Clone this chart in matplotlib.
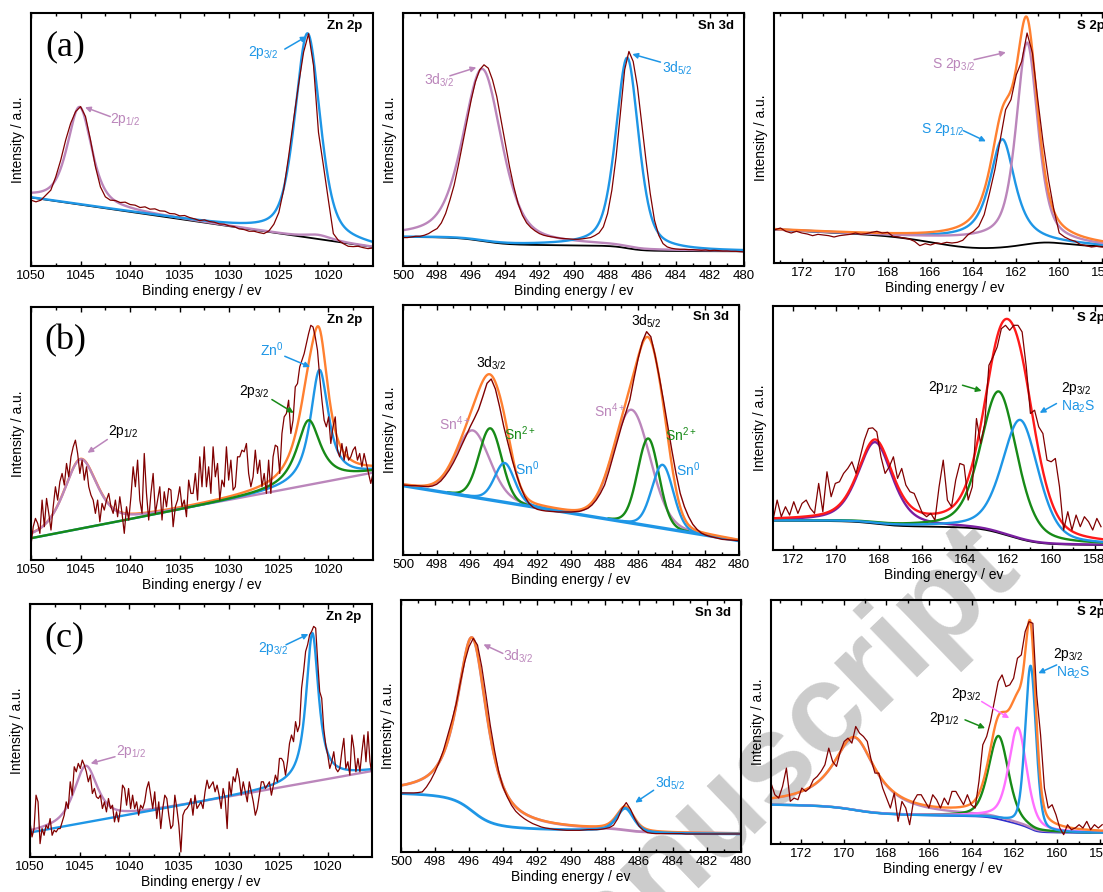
import numpy as np
import matplotlib.pyplot as plt
from matplotlib.ticker import MultipleLocator

plt.rcParams['font.family'] = ['Liberation Sans', 'DejaVu Sans']
plt.rcParams['mathtext.fontset'] = 'custom'
plt.rcParams['mathtext.rm'] = 'Liberation Sans'
plt.rcParams['mathtext.it'] = 'Liberation Sans:italic'
plt.rcParams['mathtext.bf'] = 'Liberation Sans:bold'

RAW = '#800000'
BLUE = '#1e96e6'
MAUVE = '#bb86bb'
ORANGE = '#ff8030'
GREEN = '#178a17'
RED = '#ff1a1a'
VIOLET = '#7a1fa0'
PINK = '#ff70ff'
NAVY = '#2e2ecc'

# ---------------------------------------------------------------------------
# data, intensities in a.u.
# peaks are (centre / eV, height, fwhm / eV, lorentzian fraction)
# backgrounds are (linear at left edge, linear at right edge, shirley step)
# ---------------------------------------------------------------------------

# (a) Zn 2p, raw every 0.5 eV from 1050 to 1015.5
a_zn_raw = [197, 192, 197, 212, 227, 267, 317, 377, 427, 462,
            477, 447, 377, 297, 237, 207, 197, 196, 190, 191,
            184, 182, 175, 177, 170, 171, 165, 164, 157, 156,
            150, 151, 145, 141, 136, 138, 133, 131, 126, 125,
            120, 118, 111, 109, 104, 104, 100, 97, 105, 125,
            160, 230, 330, 440, 545, 640, 695, 600, 400, 300,
            197, 97, 77, 67, 59, 58, 59, 55, 52, 54]
a_zn_bg = (205, 57, 0)
a_zn_p12 = (1045.1, 292, 2.9, 0.6)
a_zn_p12_tail = (1021.0, 12, 3.0, 0.5)
a_zn_p32 = (1022.1, 611, 3.0, 0.5)

# (a) Sn 3d, raw every 0.25 eV from 500 to 480
a_sn_raw = [85, 85, 87, 89, 89, 92, 97, 105, 112, 129,
            157, 197, 242, 302, 367, 432, 497, 552, 587, 602,
            592, 557, 507, 437, 367, 297, 237, 187, 152, 129,
            115, 105, 97, 92, 89, 87, 85, 83, 82, 81,
            80, 80, 81, 83, 85, 91, 99, 117, 157, 227,
            327, 457, 587, 642, 612, 537, 427, 317, 217, 137,
            92, 67, 57, 53, 51, 50, 50, 49, 49, 48,
            47, 48, 46, 47, 46, 45, 45, 44, 44, 43, 42]
a_sn_bg = (45, 44, 42)
a_sn_d32 = (495.35, 515, 2.7, 0.5)
a_sn_d52 = (486.85, 570, 1.6, 0.5)

# (a) S 2p, raw every 0.25 eV from 173.25 to 157.25
a_s_raw = [100, 105, 95, 90, 95, 90, 87, 82, 86, 84,
           82, 78, 82, 84, 86, 90, 86, 88, 92, 95,
           90, 92, 80, 78, 75, 72, 65, 52, 58, 54,
           60, 58, 62, 60, 62, 68, 85, 95, 110, 145,
           210, 280, 370, 460, 490, 565, 605, 690, 630, 490,
           360, 250, 160, 90, 78, 70, 65, 55, 52, 48,
           50, 48, 50, 45, 45]
a_s_bg = (100, 48, 0)
a_s_bg_dip = [(164.0, -24, 4.5, 0.0), (160.7, 8, 2.0, 0.0)]
a_s_p12 = (162.65, 306, 1.4, 0.8)
a_s_p32 = (161.5, 600, 1.2, 0.6)

# (b) Zn 2p, raw evenly spaced from 1050 to 1015.5
b_zn_raw = [45, 100, 125, 110, 80, 180, 100, 185, 140, 90,
            160, 220, 180, 235, 260, 225, 290, 250, 310, 340,
            360, 320, 260, 300, 240, 280, 220, 195, 180, 140,
            180, 115, 170, 150, 180, 200, 160, 140, 180, 130,
            190, 140, 80, 160, 120, 190, 280, 220, 300, 180,
            140, 320, 200, 120, 200, 260, 140, 180, 220, 120,
            205, 160, 215, 210, 100, 160, 180, 220, 160, 180,
            130, 240, 200, 200, 260, 180, 310, 220, 340, 220,
            280, 200, 340, 250, 290, 180, 240, 220, 340, 240,
            300, 210, 220, 310, 310, 330, 325, 350, 260, 220,
            250, 330, 260, 300, 220, 260, 200, 300, 200, 310,
            345, 340, 260, 380, 430, 440, 480, 380, 420, 520,
            530, 580, 600, 620, 650, 680, 705, 700, 670, 630,
            550, 480, 420, 400, 430, 350, 400, 430, 330, 310,
            350, 300, 340, 300, 310, 330, 340, 300, 320, 280,
            320, 290, 260, 230, 260]
b_zn_bg = (65, 262, 0)
b_zn_p12 = (1045.0, 209, 3.9, 0.5)
b_zn_p32 = (1022.0, 195, 2.9, 0.9)
b_zn_zn0 = (1020.9, 340, 2.2, 0.9)

# (b) Sn 3d, raw every 0.25 eV from 500 to 480
b_sn_raw = [210, 209, 208, 208, 207, 206, 205, 207, 212, 222,
            237, 255, 277, 302, 330, 357, 385, 410, 437, 475,
            515, 528, 498, 445, 385, 335, 285, 242, 205, 175,
            155, 143, 137, 134, 132, 131, 130, 129, 129, 129,
            129, 130, 131, 135, 140, 150, 165, 185, 210, 250,
            295, 340, 385, 425, 465, 530, 590, 640, 670, 655,
            600, 535, 465, 390, 315, 245, 185, 145, 115, 92,
            77, 66, 60, 56, 53, 50, 47, 46, 45, 44, 43]
b_sn_bg = (208, 43, 0)
b_sn_d32 = [(495.85, 200, 2.4, 0.2), (494.8, 215, 1.6, 0.1), (493.95, 118, 1.4, 0.2)]
b_sn_d52 = [(486.4, 340, 2.6, 0.1), (485.4, 262, 1.5, 0.1), (484.55, 190, 1.5, 0.1)]

# (b) S 2p, raw evenly spaced from 172.95 to 157.7
b_s_raw = [90, 150, 100, 130, 105, 145, 110, 140, 150, 125,
           110, 200, 115, 235, 160, 200, 205, 230, 245, 265,
           230, 280, 330, 365, 367, 355, 280, 230, 250, 280,
           215, 245, 195, 175, 170, 140, 110, 100, 110, 90,
           190, 270, 150, 130, 210, 260, 255, 150, 190, 395,
           320, 380, 555, 580, 610, 665, 675, 660, 675, 675,
           655, 550, 410, 420, 370, 350, 270, 265, 275, 190,
           60, 115, 60, 105, 70, 100, 85, 60, 95, 70]
b_s_bg = (15, 15, 73)
b_s_sulf = (168.2, 245, 1.9, 0.5)
b_s_p12 = (162.45, 425, 2.0, 0.4)
b_s_na2s = (161.45, 358, 2.0, 0.4)

# (c) Zn 2p, raw evenly spaced from 1050 to 1015.6
c_zn_raw = [105, 60, 85, 185, 165, 40, 85, 65, 95, 85,
            115, 65, 80, 75, 85, 85, 105, 125, 165, 145,
            225, 185, 270, 255, 280, 265, 290, 275, 255, 225,
            245, 190, 205, 180, 175, 185, 145, 165, 135, 175,
            145, 155, 105, 135, 105, 145, 215, 205, 155, 205,
            145, 185, 145, 165, 125, 155, 145, 165, 205, 225,
            185, 145, 195, 115, 165, 85, 145, 185, 175, 125,
            85, 95, 185, 145, 95, 15, 125, 140, 145, 155,
            175, 125, 185, 145, 155, 165, 145, 195, 230, 205,
            215, 225, 195, 215, 185, 145, 205, 175, 85, 225,
            185, 240, 225, 265, 235, 185, 225, 195, 165, 225,
            195, 165, 125, 145, 185, 225, 225, 205, 215, 225,
            185, 215, 245, 225, 295, 295, 285, 245, 285, 340,
            365, 345, 405, 375, 395, 505, 555, 615, 635, 665,
            675, 690, 685, 585, 495, 475, 385, 335, 305, 265,
            285, 315, 265, 255, 265, 315, 355, 265, 285, 245,
            365, 325, 255, 295, 255, 315, 365, 285, 375, 285, 245]
c_zn_bg = (73, 257, 0)
c_zn_p12 = (1044.4, 170, 2.8, 0.7)
c_zn_p32 = (1021.6, 445, 1.5, 0.9)

# (c) Sn 3d, raw every 0.25 eV from 500 to 480
c_sn_raw = [177, 177, 177, 177, 178, 180, 195, 215, 240, 270,
            305, 350, 395, 445, 510, 570, 615, 640, 620, 555,
            470, 380, 305, 240, 195, 165, 140, 122, 110, 100,
            92, 85, 80, 75, 72, 70, 68, 67, 66, 65,
            65, 65, 65, 66, 67, 67, 67, 68, 70, 73,
            80, 100, 130, 148, 128, 100, 78, 65, 58, 56,
            55, 55, 55, 55, 55, 55, 55, 54, 54, 54,
            54, 54, 54, 54, 54, 54, 54, 54, 54, 54, 54]
c_sn_bg = (54, 54, 121)
c_sn_d32 = (495.8, 520, 2.1, 0.8)
c_sn_d52 = (486.8, 71, 1.2, 0.5)

# (c) S 2p, raw evenly spaced from 173.4 to 157.9
c_s_raw = [183, 148, 138, 173, 228, 128, 138, 133, 168, 158,
           168, 193, 203, 218, 238, 288, 248, 233, 278, 308,
           318, 303, 353, 333, 323, 308, 253, 213, 213, 168,
           138, 108, 153, 68, 128, 108, 58, 128, 148, 148,
           128, 108, 148, 133, 108, 138, 118, 158, 158, 138, 118, 148,
           118, 108, 188, 298, 323, 368, 428, 488, 508, 473,
           478, 498, 558, 568, 638, 668, 663, 448, 328, 168,
           108, 118, 88, 48, 28, 58, 43, 48, 58,
           48, 68, 43, 58, 48, 58]
c_s_bg = (33, 33, 85)
c_s_sulf = (169.5, 218, 2.4, 1.0)
c_s_p12 = (162.75, 250, 1.1, 0.4)
c_s_p32 = (161.85, 290, 1.0, 0.5)
c_s_na2s = (161.25, 490, 0.6, 0.3)


# ---------------------------------------------------------------------------
def pv(x, peak):
    c, h, w, eta = peak
    d = (x - c) / w
    return h * (eta / (1 + 4 * d ** 2) + (1 - eta) * np.exp(-4 * np.log(2) * d ** 2))


def background(x, spec, peaks=()):
    left, right, step = spec
    bg = left + (right - left) * (x[0] - x) / (x[0] - x[-1])
    if step:
        total = sum(pv(x, p) for p in peaks)
        cum = np.cumsum(total[::-1])[::-1]
        bg = bg + step * cum / cum[0]
    return bg


W, H = 1103, 892
fig = plt.figure(figsize=(W / 100, H / 100), dpi=100)


def panel(box, xlim, ytop, major, minor, title, letter=None):
    l, t, r, b = box
    ax = fig.add_axes([l / W, 1 - b / H, (r - l) / W, (b - t) / H])
    ax.patch.set_alpha(0)
    ax.set_xlim(*xlim)
    ax.set_ylim(0, ytop)
    ax.xaxis.set_major_locator(MultipleLocator(major))
    ax.xaxis.set_minor_locator(MultipleLocator(minor))
    ax.ticklabel_format(axis='x', useOffset=False)
    ax.set_yticks([])
    ax.tick_params(axis='x', which='both', direction='in', top=True, width=1,
                   labelsize=9.5, pad=3)
    ax.tick_params(axis='x', which='major', length=3.5)
    ax.tick_params(axis='x', which='minor', length=2)
    for s in ax.spines.values():
        s.set_linewidth(1.5)
    ax.set_xlabel('Binding energy / ev', fontsize=10, labelpad=1)
    ax.set_ylabel('Intensity / a.u.', fontsize=10, labelpad=4)
    ax.text(0.97, 0.95, title, transform=ax.transAxes, ha='right', va='center',
            fontsize=9.5, fontweight='bold')
    if letter:
        ax.text(0.1, 0.865, letter, transform=ax.transAxes, ha='center', va='center',
                fontsize=26, family='Liberation Serif')
    return ax


def label(ax, x, y, s, color):
    ax.text(x, y, s, color=color, fontsize=10, ha='center', va='center')


def arrow(ax, tail, head, color):
    ax.annotate('', xy=head, xytext=tail,
                arrowprops=dict(arrowstyle='-|>', color=color, lw=1.1,
                                mutation_scale=8, shrinkA=0, shrinkB=0))


def grid(xlim):
    return np.linspace(xlim[0], xlim[1], 1500)


FIT = 1.7

# ---- (a) Zn 2p ----
lim = (1050, 1015.5)
ax = panel((31, 13, 373, 266), lim, 757, 5, 2.5, 'Zn 2p', '(a)')
x = grid(lim)
bg = background(x, a_zn_bg)
ax.plot(x, bg, color='k', lw=1.3)
ax.plot(x, bg + pv(x, a_zn_p12) + pv(x, a_zn_p12_tail), color=MAUVE, lw=FIT)
ax.plot(x, bg + pv(x, a_zn_p32), color=BLUE, lw=FIT)
ax.plot(np.linspace(lim[0], lim[1], len(a_zn_raw)), a_zn_raw, color=RAW, lw=0.9)
label(ax, 1040.5, 437, '2p$_{1/2}$', MAUVE)
arrow(ax, (1042.0, 447), (1044.55, 475), MAUVE)
label(ax, 1026.6, 639, '2p$_{3/2}$', BLUE)
arrow(ax, (1024.4, 649), (1022.2, 687), BLUE)

# ---- (a) Sn 3d ----
lim = (500, 480)
ax = panel((403, 13, 744, 266), lim, 757, 2, 1, 'Sn 3d')
x = grid(lim)
bg = background(x, a_sn_bg, [a_sn_d32, a_sn_d52])
ax.plot(x, bg, color='k', lw=1.3)
ax.plot(x, bg + pv(x, a_sn_d32), color=MAUVE, lw=FIT)
ax.plot(x, bg + pv(x, a_sn_d52), color=BLUE, lw=FIT)
ax.plot(np.linspace(lim[0], lim[1], len(a_sn_raw)), a_sn_raw, color=RAW, lw=0.9)
label(ax, 497.9, 557, '3d$_{3/2}$', MAUVE)
arrow(ax, (497.25, 569), (495.7, 594), MAUVE)
label(ax, 483.9, 592, '3d$_{5/2}$', BLUE)
arrow(ax, (484.9, 610), (486.55, 634), BLUE)

# ---- (a) S 2p ----
lim = (173.3, 157.4)
ax = panel((774, 13, 1115, 263), lim, 750, 2, 1, 'S 2p')
x = grid(lim)
bg = background(x, a_s_bg)
ax.plot(x, bg + sum(pv(x, p) for p in a_s_bg_dip), color='k', lw=1.3)
ax.plot(x, bg + pv(x, a_s_p12), color=BLUE, lw=FIT)
ax.plot(x, bg + pv(x, a_s_p32), color=MAUVE, lw=FIT)
ax.plot(x, bg + pv(x, a_s_p12) + pv(x, a_s_p32), color=ORANGE, lw=FIT)
ax.plot(np.linspace(173.25, 157.25, len(a_s_raw)), a_s_raw, color=RAW, lw=0.9)
label(ax, 164.9, 595, 'S 2p$_{3/2}$', MAUVE)
arrow(ax, (163.97, 610), (162.49, 632), MAUVE)
label(ax, 165.42, 402, 'S 2p$_{1/2}$', BLUE)
arrow(ax, (164.47, 397), (163.42, 365), BLUE)

# ---- (b) Zn 2p ----
lim = (1050, 1015.5)
ax = panel((31, 307, 373, 560), lim, 760, 5, 2.5, 'Zn 2p', '(b)')
x = grid(lim)
bg = background(x, b_zn_bg)
ax.plot(x, bg + pv(x, b_zn_p12) + pv(x, b_zn_p32) + pv(x, b_zn_zn0), color=ORANGE, lw=FIT)
ax.plot(x, bg + pv(x, b_zn_p12), color=MAUVE, lw=FIT)
ax.plot(x, bg + pv(x, b_zn_zn0), color=BLUE, lw=FIT)
ax.plot(x, bg + pv(x, b_zn_p32), color=GREEN, lw=FIT)
ax.plot(np.linspace(lim[0], lim[1], len(b_zn_raw)), b_zn_raw, color=RAW, lw=0.9)
label(ax, 1040.7, 385, '2p$_{1/2}$', 'k')
arrow(ax, (1042.3, 362), (1044.3, 322), MAUVE)
label(ax, 1027.5, 505, '2p$_{3/2}$', 'k')
arrow(ax, (1025.7, 482), (1023.5, 442), GREEN)
label(ax, 1025.7, 632, 'Zn$^{0}$', BLUE)
arrow(ax, (1024.4, 612), (1021.85, 580), BLUE)

# ---- (b) Sn 3d ----
lim = (500, 480)
ax = panel((403, 305, 739, 555), lim, 750, 2, 1, 'Sn 3d')
x = grid(lim)
bg = background(x, b_sn_bg)
comps = b_sn_d32 + b_sn_d52
for p, c in zip(comps, [MAUVE, GREEN, BLUE] * 2):
    y = pv(x, p)
    ax.plot(x, np.where(y > 0.01 * p[1], bg + y, np.nan), color=c, lw=FIT)
ax.plot(x, bg, color=BLUE, lw=2.4)
ax.plot(x, bg + sum(pv(x, p) for p in comps), color=ORANGE, lw=FIT)
ax.plot(np.linspace(lim[0], lim[1], len(b_sn_raw)), b_sn_raw, color=RAW, lw=1.0)
label(ax, 494.74, 575, '3d$_{3/2}$', 'k')
label(ax, 485.52, 700, '3d$_{5/2}$', 'k')
label(ax, 496.92, 395, 'Sn$^{4+}$', MAUVE)
label(ax, 493.06, 363, 'Sn$^{2+}$', GREEN)
label(ax, 492.62, 260, 'Sn$^{0}$', BLUE)
label(ax, 487.7, 432, 'Sn$^{4+}$', MAUVE)
label(ax, 483.49, 360, 'Sn$^{2+}$', GREEN)
label(ax, 483.04, 255, 'Sn$^{0}$', BLUE)

# ---- (b) S 2p ----
lim = (172.95, 157.05)
ax = panel((773, 306, 1115, 550), lim, 733, 2, 1, 'S 2p')
x = grid(lim)
comps = [b_s_sulf, b_s_p12, b_s_na2s]
bg = background(x, b_s_bg, comps)
ax.plot(x, bg, color='k', lw=1.3)
ax.plot(x, bg + pv(x, b_s_sulf), color=VIOLET, lw=FIT)
ax.plot(x, bg + pv(x, b_s_p12), color=GREEN, lw=FIT)
ax.plot(x, bg + pv(x, b_s_na2s), color=BLUE, lw=FIT)
ax.plot(x, bg + sum(pv(x, p) for p in comps), color=RED, lw=FIT)
ax.plot(np.linspace(172.95, 157.7, len(b_s_raw)), b_s_raw, color=RAW, lw=0.9)
label(ax, 165.03, 488, '2p$_{1/2}$', 'k')
arrow(ax, (164.14, 495), (163.25, 478), GREEN)
label(ax, 158.84, 485, '2p$_{3/2}$', 'k')
label(ax, 158.77, 430, 'Na$_2$S', BLUE)
arrow(ax, (159.77, 440), (160.55, 412), BLUE)

# ---- (c) Zn 2p ----
lim = (1050, 1015.6)
ax = panel((30, 604, 372, 857), lim, 757, 5, 2.5, 'Zn 2p', '(c)')
x = grid(lim)
bg = background(x, c_zn_bg)
ax.plot(x, bg + pv(x, c_zn_p12), color=MAUVE, lw=FIT)
ax.plot(x, bg + pv(x, c_zn_p32), color=BLUE, lw=FIT)
ax.plot(np.linspace(lim[0], lim[1], len(c_zn_raw)), c_zn_raw, color=RAW, lw=0.9)
label(ax, 1039.78, 315, '2p$_{1/2}$', MAUVE)
arrow(ax, (1041.45, 300), (1043.9, 280), MAUVE)
label(ax, 1025.53, 625, '2p$_{3/2}$', BLUE)
arrow(ax, (1024.25, 635), (1022.0, 667), BLUE)

# ---- (c) Sn 3d ----
lim = (500, 480)
ax = panel((401, 600, 741, 852), lim, 755, 2, 1, 'Sn 3d')
x = grid(lim)
bg = background(x, c_sn_bg, [c_sn_d32, c_sn_d52])
ax.plot(x, bg + pv(x, c_sn_d32), color=MAUVE, lw=2.0)
ax.plot(x, bg + pv(x, c_sn_d32) + pv(x, c_sn_d52), color=ORANGE, lw=FIT)
ax.plot(x, bg + pv(x, c_sn_d52), color=BLUE, lw=2.0)
ax.plot(np.linspace(lim[0], lim[1], len(c_sn_raw)), c_sn_raw, color=RAW, lw=0.9)
label(ax, 493.09, 585, '3d$_{3/2}$', MAUVE)
arrow(ax, (494.01, 595), (495.15, 622), MAUVE)
label(ax, 484.16, 205, '3d$_{5/2}$', BLUE)
arrow(ax, (485.14, 185), (486.22, 148), BLUE)

# ---- (c) S 2p ----
lim = (173.4, 157.3)
ax = panel((771, 600, 1115, 844), lim, 733, 2, 1, 'S 2p')
x = grid(lim)
comps = [c_s_sulf, c_s_p12, c_s_p32, c_s_na2s]
bg = background(x, c_s_bg, comps)
ax.plot(x, bg, color=NAVY, lw=1.3)
ax.plot(x, bg + pv(x, c_s_sulf), color=MAUVE, lw=FIT)
ax.plot(x, bg + pv(x, c_s_p12), color=GREEN, lw=FIT)
ax.plot(x, bg + pv(x, c_s_p32), color=PINK, lw=FIT)
ax.plot(x, bg + pv(x, c_s_na2s), color=BLUE, lw=FIT)
ax.plot(x, bg + sum(pv(x, p) for p in comps), color=ORANGE, lw=FIT)
ax.plot(np.linspace(173.4, 157.9, len(c_s_raw)), c_s_raw, color=RAW, lw=0.9)
label(ax, 164.24, 448, '2p$_{3/2}$', 'k')
arrow(ax, (163.54, 428), (162.25, 378), PINK)
label(ax, 165.3, 378, '2p$_{1/2}$', 'k')
arrow(ax, (164.32, 373), (163.38, 348), GREEN)
label(ax, 159.48, 570, '2p$_{3/2}$', 'k')
label(ax, 159.25, 513, 'Na$_2$S', BLUE)
arrow(ax, (160.03, 538), (160.89, 513), BLUE)

# watermark of the accepted manuscript
fig.text(0.683, 0.124, 'Manuscript', rotation=44, rotation_mode='anchor',
         ha='center', va='center', fontsize=92, fontweight='bold',
         color='#cccccc', zorder=-1)

fig.savefig('out.png', dpi=100)
